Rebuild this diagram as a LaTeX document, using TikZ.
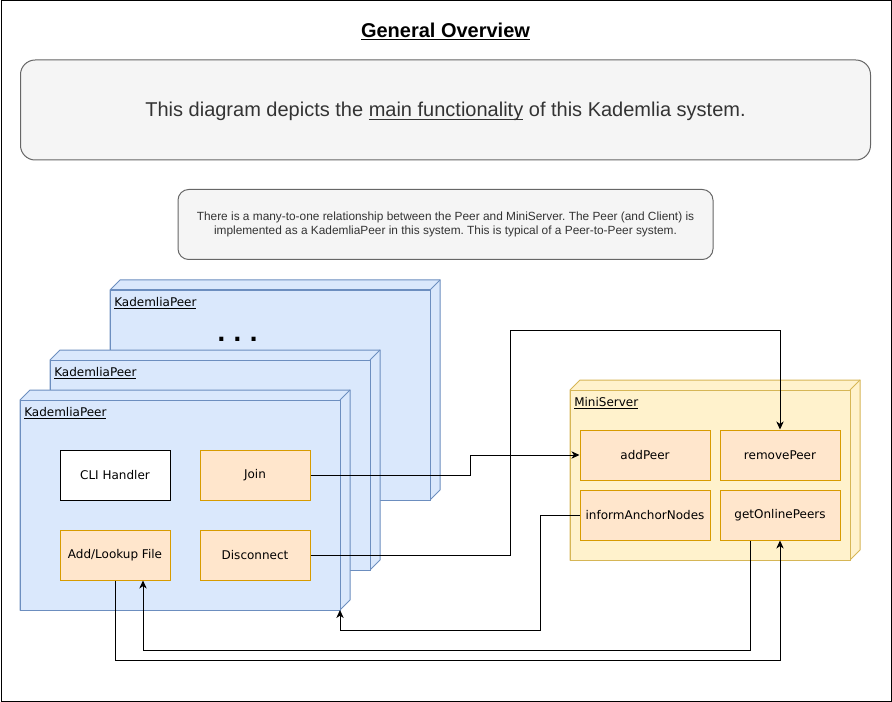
\documentclass[tikz,border=0pt]{standalone}
\usepackage{fontspec}
\setmainfont{DejaVu Sans}
\newfontfamily\arialf{Liberation Sans}
\usetikzlibrary{arrows.meta}
\definecolor{peerfill}{HTML}{DAE8FC}
\definecolor{peerline}{HTML}{6C8EBF}
\definecolor{orfill}{HTML}{FFE6CC}
\definecolor{orline}{HTML}{D79B00}
\definecolor{yfill}{HTML}{FFF2CC}
\definecolor{yline}{HTML}{D6B656}
\definecolor{gfill}{HTML}{F5F5F5}
\definecolor{gline}{HTML}{666666}
\definecolor{gtext}{HTML}{333333}
\newcommand{\myul}[1]{\underline{\smash{#1}}}
\newcommand{\threedbox}[6]{% style, name, x1, y1, x2, y2
  \draw[#1] (#3,#4) -- ({#3+10},{#4-10}) -- ({#5+10},{#4-10}) -- ({#5+10},{#6-10}) -- (#5,#6) -- (#3,#6) -- cycle;
  \draw[#1] (#3,#4) rectangle (#5,#6);
  \draw[#1] (#5,#4) -- ({#5+10},{#4-10});
  \coordinate (#2-nw) at (#3,#4);
  \coordinate (#2-se) at (#5,#6);
}
\begin{document}
\frenchspacing
\begin{tikzpicture}[x=0.75pt,y=-0.75pt,
  peer/.style={draw=peerline, fill=peerfill, line width=0.75pt, line join=miter},
  server/.style={draw=yline, fill=yfill, line width=0.75pt, line join=miter},
  lbl/.style={anchor=base west, inner sep=0pt, font=\fontsize{9}{11}\selectfont},
  obox/.style={draw=orline, fill=orfill, line width=0.75pt, inner sep=0pt,
    minimum height=37.5pt, font=\fontsize{9}{11}\selectfont},
  wbox/.style={draw=black, fill=white, line width=0.75pt, inner sep=0pt,
    minimum height=37.5pt, minimum width=82.5pt, font=\fontsize{9}{11}\selectfont},
  conn/.style={draw=black, line width=0.75pt, -{Stealth[length=6pt,width=5.5pt,inset=1.8pt]}},
  line/.style={draw=black, line width=0.75pt}
]
\useasboundingbox (0,0) rectangle (892,702);
\draw[line] (1,1) rectangle (891,701);

% title
\node[anchor=base, inner sep=0pt, font=\arialf\bfseries\fontsize{15}{18}\selectfont] (title) at (445.5,37.5) {\myul{General Overview}};

% main description box
\node[draw=gline, fill=gfill, line width=0.75pt, rounded corners=11pt,
  minimum width=637.5pt, minimum height=75pt] (desc) at (445.5,110) {};
\node[anchor=base, inner sep=0pt, text=gtext, font=\arialf\fontsize{15}{18}\selectfont] (desctext) at (445.5,117)
  {This diagram depicts the \myul{main functionality} of this Kademlia system.};

% note box
\node[draw=gline, fill=gfill, line width=0.75pt, rounded corners=8pt,
  minimum width=401.25pt, minimum height=52.5pt, text=gtext, align=center,
  font=\arialf\fontsize{8.9}{10.5}\selectfont] (note) at (445.5,224.5)
  {There is a many-to-one relationship between the Peer and MiniServer. The Peer (and Client) is\\
   implemented as a KademliaPeer in this system. This is typical of a Peer-to-Peer system.};

% peers (back to front)
\threedbox{peer}{p3}{110}{290}{430}{500}
\node[lbl] (p3lbl) at (114,306) {\myul{KademliaPeer}};
\node[anchor=base, inner sep=0pt, font=\bfseries\fontsize{17}{20}\selectfont] (dots) at (237.5,341.5) {.\,\,.\,\,.};

\threedbox{peer}{p2}{50}{360}{370}{570}
\node[lbl] (p2lbl) at (54,376) {\myul{KademliaPeer}};

\threedbox{peer}{p1}{20}{400}{340}{610}
\node[lbl] (p1lbl) at (24,416) {\myul{KademliaPeer}};

\node[wbox] (cli) at (115,475) {CLI Handler};
\node[obox, minimum width=82.5pt] (join) at (255,475) {Join};
\node[obox, minimum width=82.5pt] (add) at (115,555) {Add/Lookup File};
\node[obox, minimum width=82.5pt] (disc) at (255,555) {Disconnect};

% mini server
\threedbox{server}{ms}{570}{390}{850}{560}
\node[lbl] (mslbl) at (574,406) {\myul{MiniServer}};
\node[obox, minimum width=97.5pt] (addpeer) at (645,455) {addPeer};
\node[obox, minimum width=90pt] (rmpeer) at (780,455) {removePeer};
\node[obox, minimum width=97.5pt] (inform) at (645,515) {informAnchorNodes};
\node[obox, minimum width=90pt] (gop) at (780,515) {getOnlinePeers};

% connectors
\draw[conn] (join.east) -- (470,475) |- (addpeer.west);
\draw[conn] (disc.east) -- (510,555) -- (510,330) -| (rmpeer.north);
\draw[conn] (inform.west) -- (540,515) -- (540,630) -- (340,630) -- (p1-se);
\draw[conn] ([xshift=-22.5pt]gop.south) -- (750,650) -- (143,650) -- ([xshift=21pt]add.south);
\draw[conn] (add.south) -- (115,660) -| (gop.south);
\end{tikzpicture}
\end{document}
